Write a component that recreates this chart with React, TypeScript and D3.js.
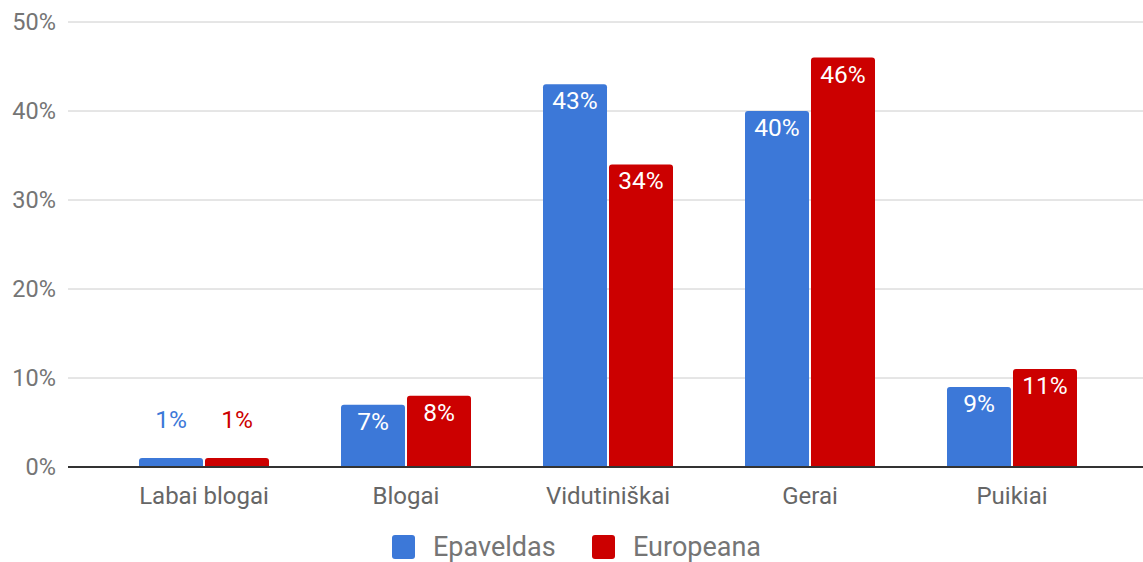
import React from "react";
import * as d3 from "d3";

const categories = ["Labai blogai", "Blogai", "Vidutiniškai", "Gerai", "Puikiai"];
const seriesNames = ["Epaveldas", "Europeana"];
const epaveldas = [1, 7, 43, 40, 9];
const europeana = [1, 8, 34, 46, 11];
const yTicks = [0, 10, 20, 30, 40, 50];
const colors = ["#3c78d8", "#cc0000"];

const W = 1143, H = 562;
const gridLeft = 68, gridRight = 1143;
const FONT = "Roboto, 'Noto Sans', sans-serif";

export default function App() {
  const y = d3.scaleLinear().domain([0, 50]).range([467, 22]);
  const x0 = d3.scaleBand<string>().domain(categories).range([103, 1113]).paddingInner(0).paddingOuter(0);
  const x1 = d3.scaleBand<string>().domain(seriesNames).range([36, 166]).paddingInner(0.03);
  const data = [epaveldas, europeana];

  return (
    <svg width={W} height={H} style={{ position: "absolute", left: 0, top: 0, background: "#fff" }} fontFamily={FONT}>
      {yTicks.map((t) => (
        <g key={t}>
          {t !== 0 && (
            <line x1={gridLeft} x2={gridRight} y1={y(t)} y2={y(t)} stroke="#cccccc" strokeWidth={1} />
          )}
          <text x={56} y={y(t)} dy="0.35em" textAnchor="end" fontSize={23.5} fill="#757575">{t}%</text>
        </g>
      ))}
      {categories.map((c, i) => (
        <g key={c} transform={`translate(${x0(c)},0)`}>
          {seriesNames.map((s, j) => {
            const v = data[j][i];
            const bx = x1(s)!;
            const bw = x1.bandwidth();
            const top = y(v);
            const h = y(0) - top;
            const inside = h > 30;
            return (
              <g key={s}>
                <path
                  d={`M${bx},${y(0)} L${bx},${top + 3} Q${bx},${top} ${bx + 3},${top} L${bx + bw - 3},${top} Q${bx + bw},${top} ${bx + bw},${top + 3} L${bx + bw},${y(0)} Z`}
                  fill={colors[j]}
                />
                <text
                  x={bx + bw / 2}
                  y={inside ? top + 25 : top - 30}
                  textAnchor="middle"
                  fontSize={24.5}
                  fill={inside ? "#ffffff" : colors[j]}
                >{v}%</text>
              </g>
            );
          })}
          <text x={x0.bandwidth() / 2} y={504} textAnchor="middle" fontSize={24} fill="#666666">{c}</text>
        </g>
      ))}
      <line x1={gridLeft} x2={gridRight} y1={y(0)} y2={y(0)} stroke="#333333" strokeWidth={2} />
      {seriesNames.map((s, j) => {
        const lx = j === 0 ? 392 : 592;
        return (
          <g key={s}>
            <rect x={lx} y={535} width={23} height={24} rx={3} fill={colors[j]} />
            <text x={lx + 41} y={547} dy="0.35em" fontSize={27} fill="#757575">{s}</text>
          </g>
        );
      })}
    </svg>
  );
}
